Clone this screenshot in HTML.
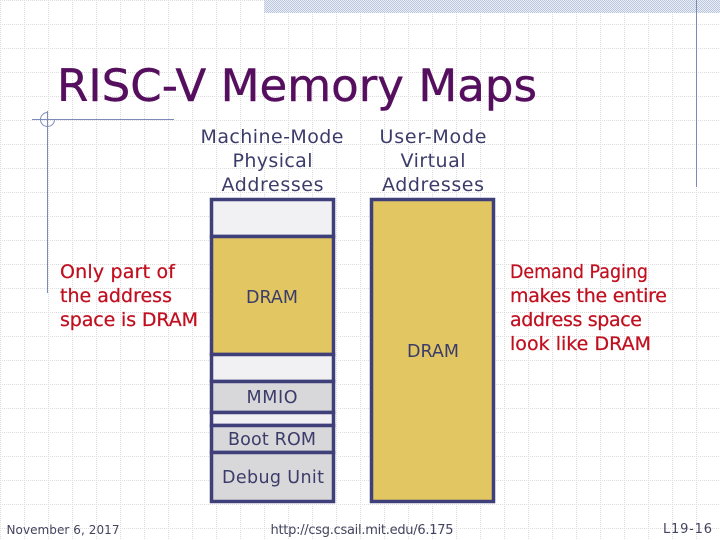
<!DOCTYPE html>
<html><head><meta charset="utf-8"><style>
html,body{margin:0;padding:0;background:#fff;width:720px;height:540px;overflow:hidden}
svg{display:block}
text{font-family:"DejaVu Sans","Liberation Sans",sans-serif;fill:#3c3c6a;font-size:19px;text-anchor:middle}
.b{font-size:17.500px}
.r{fill:#c01020;stroke:#c01020;stroke-width:0.25px;text-anchor:start;font-size:19px}
.s{font-size:12px;fill:#44445f}
</style></head><body>
<svg width="720" height="540" viewBox="0 0 720 540" xmlns="http://www.w3.org/2000/svg">
<defs>
<pattern id="g" width="24" height="24" patternUnits="userSpaceOnUse">
<path d="M0 0.5H24M0.5 0V24" fill="none" stroke="#dcdcdc" stroke-width="1" stroke-dasharray="1 1"/>
</pattern>
<pattern id="h" width="2" height="2" patternUnits="userSpaceOnUse">
<rect width="2" height="2" fill="#eaeef6"/><rect width="1" height="1" fill="#bcc7de"/><rect x="1" y="1" width="1" height="1" fill="#bcc7de"/>
</pattern>
</defs>
<rect width="720" height="540" fill="#fff"/>
<rect width="720" height="540" fill="url(#g)"/>
<rect x="264" y="0" width="456" height="13" fill="url(#h)"/>
<path d="M696.5 0V187" stroke="#7d8ab9" stroke-width="1" fill="none"/>
<path d="M32 119.5H174M47.5 111V293" stroke="#7d8ab9" stroke-width="1" fill="none"/>
<path d="M47.5 112.500A7 7 0 1 0 54.500 119.500" fill="none" stroke="#7d8ab9" stroke-width="1"/>
<text x="57" y="101" textLength="480" lengthAdjust="spacingAndGlyphs" style="font-size:44.500px;fill:#560f5e;stroke:#560f5e;stroke-width:0.4px;text-anchor:start">RISC-V Memory Maps</text>

<text x="272" y="143" textLength="143" lengthAdjust="spacing">Machine-Mode</text>
<text x="272.500" y="167" textLength="80" lengthAdjust="spacing">Physical</text>
<text x="272.500" y="191" textLength="102" lengthAdjust="spacing">Addresses</text>
<text x="433" y="143" textLength="107" lengthAdjust="spacing">User-Mode</text>
<text x="433" y="167" textLength="65" lengthAdjust="spacing">Virtual</text>
<text x="433" y="191" textLength="102" lengthAdjust="spacing">Addresses</text>

<g stroke="#3f3f7a" stroke-width="3.500">
<rect x="211.500" y="199.500" width="122" height="37" fill="#f1f1f3"/>
<rect x="211.500" y="236.500" width="122" height="118" fill="#e1c662"/>
<rect x="211.500" y="354.500" width="122" height="27" fill="#f1f1f3"/>
<rect x="211.500" y="381.500" width="122" height="31" fill="#d8d8da"/>
<rect x="211.500" y="412.500" width="122" height="13" fill="#f1f1f3"/>
<rect x="211.500" y="425.500" width="122" height="27" fill="#d8d8da"/>
<rect x="211.500" y="452.500" width="122" height="49" fill="#d8d8da"/>
<rect x="371.500" y="199.500" width="122" height="302" fill="#e1c662"/>
</g>

<text class="b" x="272" y="303" textLength="52" lengthAdjust="spacing">DRAM</text>
<text class="b" x="433" y="357" textLength="52" lengthAdjust="spacing">DRAM</text>
<text class="b" x="272" y="403" textLength="51" lengthAdjust="spacing">MMIO</text>
<text class="b" x="272" y="445" textLength="88" lengthAdjust="spacing">Boot ROM</text>
<text class="b" x="273" y="483" textLength="102" lengthAdjust="spacing">Debug Unit</text>

<text class="r" x="60" y="278" textLength="115" lengthAdjust="spacing">Only part of</text>
<text class="r" x="60" y="302" textLength="112" lengthAdjust="spacing">the address</text>
<text class="r" x="60" y="326" textLength="138" lengthAdjust="spacing">space is DRAM</text>
<text class="r" x="510" y="278" textLength="138" lengthAdjust="spacingAndGlyphs">Demand Paging</text>
<text class="r" x="510" y="302" textLength="157" lengthAdjust="spacing">makes the entire</text>
<text class="r" x="510" y="326" textLength="132" lengthAdjust="spacing">address space</text>
<text class="r" x="510" y="350" textLength="141" lengthAdjust="spacing">look like DRAM</text>

<text class="s" x="63" y="534" textLength="113" lengthAdjust="spacing">November 6, 2017</text>
<text class="s" x="362" y="534" textLength="183" lengthAdjust="spacing" style="font-size:13px">http://csg.csail.mit.edu/6.175</text>
<text class="s" x="687.500" y="533" textLength="49" lengthAdjust="spacing" style="font-size:13px">L19-16</text>
</svg>
</body></html>
